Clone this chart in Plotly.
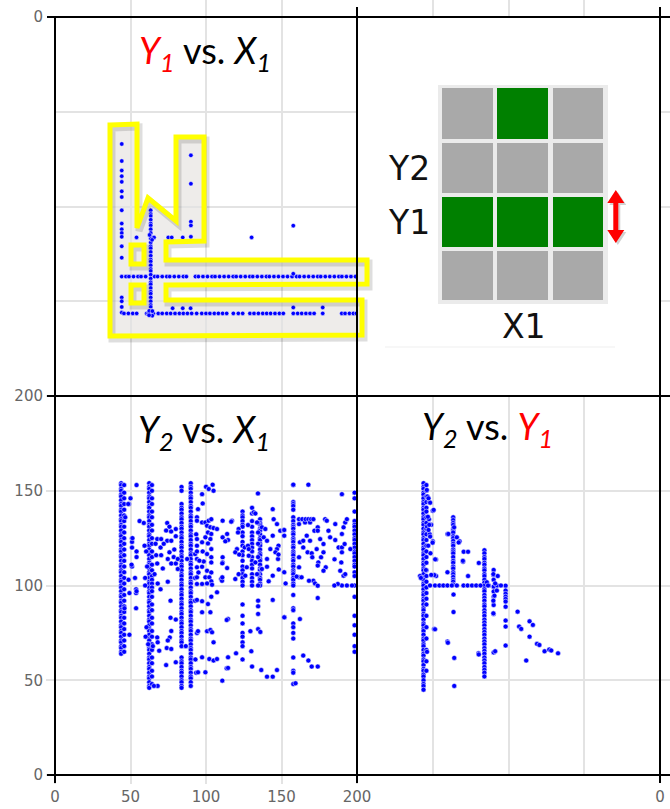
import plotly.graph_objects as go

# ---------------- data ----------------
# Y2 vs X1 : vertical columns of points (X1 of each column, then its Y2 values)
bl_col_x1 = [43.8, 45.8, 62.4, 64.2, 83.8, 89.9, 124.2, 130.5, 135.8, 134.5, 157.8, 198.4]
bl_col_y2_a = [154, 153, 151, 150, 148, 147, 145, 143, 142, 140, 139, 137, 135, 134, 132, 131, 129, 127, 126, 124,
               123, 121, 119, 118, 116, 115, 113, 111, 110, 108, 107, 105, 103, 102, 100, 99, 97, 95, 94, 92, 91,
               89, 87, 86, 84, 83, 81, 79, 78, 76, 75, 73, 71, 70, 68, 67, 65, 64]
bl_col_y2_b = [153, 149, 146, 143, 140, 137, 134, 131, 128, 125, 122, 119, 116, 113, 110, 107, 104, 101, 98, 95,
               92, 89, 86, 83, 80, 77, 74, 71, 68, 65]
bl_col_y2_c = [154, 152, 151, 149, 147, 146, 144, 142, 141, 139, 137, 136, 134, 132, 131, 129, 127, 126, 124, 122,
               121, 119, 117, 116, 114, 112, 111, 109, 107, 106, 104, 102, 101, 99, 97, 96, 94, 92, 91, 89, 87,
               86, 84, 82, 81, 79, 77, 76, 74, 72, 71, 69, 67, 66, 64, 62, 61, 59, 57, 56, 54, 52, 51, 49, 47, 46]
bl_col_y2_d = [153, 150, 146, 143, 139, 136, 132, 129, 125, 122, 118, 115, 111, 108, 105, 103, 101, 99, 97, 94,
               90, 87, 83, 80, 76, 73, 69, 66, 62, 59, 55, 52, 48]
bl_col_y2_e = [152, 150, 143, 141, 140, 138, 136, 135, 133, 131, 130, 128, 126, 125, 123, 121, 120, 118, 116, 115,
               113, 111, 110, 108, 106, 105, 103, 101, 100, 98, 96, 95, 93, 91, 90, 88, 86, 85, 83, 81, 80, 78,
               76, 75, 73, 71, 70, 68, 62, 60, 59, 57, 55, 54, 52, 50, 49, 47, 46]
bl_col_y2_f = [154, 152, 151, 149, 147, 146, 144, 142, 141, 139, 137, 136, 134, 132, 131, 129, 127, 126, 124, 122,
               121, 119, 117, 116, 114, 112, 111, 109, 107, 106, 104, 102, 101, 99, 97, 96, 94, 92, 91, 89, 87,
               86, 84, 82, 81, 79, 77, 76, 74, 72, 71, 69, 67, 66, 64, 62, 61, 59, 57, 56, 54, 52, 51, 49, 47]
bl_col_y2_g = [139, 137, 136, 134, 132, 131, 128, 126, 123, 121, 118, 116, 113, 110, 108, 106, 104, 102, 100, 90,
               84, 80, 75, 73, 70, 68, 61]
bl_col_y2_h = [141, 138, 134, 131, 128, 126, 124, 122, 120, 118, 115, 113, 111, 109, 106, 104, 102, 100]
bl_col_y2_i = [135, 133, 132, 130, 129, 127, 125, 124, 122, 121, 119, 117, 116, 114, 113, 111, 109, 108, 106, 104,
               103, 101, 100]
bl_col_y2_j = [133, 128, 122, 115, 106, 100, 92, 89, 85, 77]
bl_col_y2_k = [153, 144, 143, 142, 140, 136, 134, 132, 131, 130, 128, 127, 125, 124, 123, 121, 120, 118, 117, 116,
               114, 113, 111, 110, 108, 107, 106, 104, 103, 101, 100, 95, 88, 87, 80, 78, 75, 72, 62, 55, 54, 48]
bl_col_y2_l = [149, 146, 139, 134, 132, 131, 129, 127, 125, 124, 122, 120, 118, 117, 115, 113, 111, 110, 107, 105,
               100, 94, 84, 79, 74, 68, 65]

# Y2 vs X1 : remaining individual points (X1, Y2)
bl_points = [
    (54, 153), (50, 146), (49, 143), (46.5, 136), (51, 125), (51, 123), (51, 120), (51, 110), (48.7, 103),
    (49.3, 96), (53.7, 98), (53.7, 96), (53, 104), (53.7, 88), (49.3, 74), (46, 88), (48.5, 143), (50.7, 111),
    (54, 118), (54, 115), (54, 97), (56, 134), (58.8, 133), (51.3, 125), (60, 73), (59.7, 104), (59.7, 100),
    (61, 110), (60.4, 118), (59.3, 121), (60.6, 78), (61.7, 69),
    (67.7, 124.5), (70.3, 124.5), (74.3, 123.6), (77, 123.6), (66.6, 122), (69.9, 120), (72, 122), (75.8, 117.5),
    (79, 119), (78.6, 115), (67, 116), (70.3, 116), (74.7, 114), (77, 111.6), (80, 111.6), (67.7, 111.6),
    (71.4, 109), (65.9, 106), (68, 101), (74.7, 102), (69.9, 98), (76.5, 92), (76.5, 83), (80, 82), (77, 76),
    (76, 72.6), (74.7, 71), (67.7, 72.6), (68, 70), (64.8, 68), (69, 65.6), (74, 67), (77, 66.5), (73.6, 58),
    (80, 59.5), (68, 47), (65.5, 47), (74.3, 133), (75.8, 131), (73.6, 129), (76.9, 128.5), (80, 129.8), (80, 126),
    (86.6, 68), (87.5, 114), (81.3, 114), (81.3, 108.7), (92.8, 92), (92.8, 104), (93.5, 127), (92.8, 116.6),
    (94, 136), (93.5, 54), (93, 61), (94, 75),
    (100, 152.1), (101.8, 150.9), (104.4, 153.2), (105, 150), (97.4, 148.2), (97.8, 143.3), (94.7, 140.3),
    (134.4, 148.6), (94, 134.2), (94, 124.5), (94, 121), (94, 118), (94, 114), (94, 109.6), (94, 104.3),
    (94, 100.8),
    (97.4, 133.3), (99.6, 133.3), (101.8, 134.2), (103.5, 135), (100.7, 131.5), (102.9, 130.7), (105, 130.3),
    (107.3, 129.8), (101.3, 128), (103.5, 127.2), (99.6, 125.4), (102.9, 124.5), (97.4, 122.8), (101.3, 122.2),
    (103.5, 119.2), (97.8, 118), (100.7, 116.6), (103.5, 114.9), (103.5, 112.2), (97.4, 109.9), (100.7, 107.8),
    (103.5, 106.9), (99.6, 104.3), (102.2, 104.3), (103.5, 102.2), (97.4, 100.8), (100.7, 101.1), (104, 100.4),
    (95, 106.9), (98.5, 112.7), (95.6, 113.1),
    (111, 134.2), (117.2, 134.2), (114, 127.2), (111, 125.4), (114.6, 124), (112.8, 123.3), (111, 114.9),
    (111, 112.2), (114, 109.2), (110, 103.4), (110.6, 102.5), (110.8, 111.7), (110.8, 104.3), (116.7, 133.7),
    (121.6, 129.8), (127.8, 131.9), (121.2, 128), (120.5, 119.2), (119.4, 117.5), (122, 116.3), (125.6, 120.1),
    (127.8, 121), (128.3, 115.7), (121.6, 106), (119.4, 103.4), (126, 105.2), (127, 109.6), (128.3, 119.2),
    (131.6, 138.6), (132.7, 138), (133.8, 133.3), (137, 130.7), (138.2, 125.4), (137, 108.7), (133.8, 106),
    (132.7, 112.2),
    (144.2, 140.3), (144.8, 135), (147, 132.4), (139.3, 129.8), (140.4, 123.6), (144.2, 126.3), (148, 121),
    (147, 119.2), (142.6, 119.2), (146, 117.5), (140.4, 114), (140.4, 109.9), (144.2, 105.2), (147.7, 114),
    (149.2, 128.9), (151.4, 129.3), (141.5, 102.2), (148, 116.3), (148.2, 108.5),
    (107.3, 96.4), (103.5, 94.1), (94, 92.4), (97.4, 91.7), (101.3, 90.2), (97.4, 85.9), (102.9, 85.9),
    (114.6, 82.3), (113.7, 81.8), (144.2, 92.4), (152, 83.2), (94.7, 75.9), (100.7, 75.9), (102.9, 76.5),
    (104, 75.3), (129.4, 75.9), (136, 75.5), (105, 70), (130, 65.3), (97.4, 62.1), (102.2, 61.2), (105, 60.4),
    (107.3, 61.2), (114.6, 62.1), (113.7, 56.3), (119.9, 64.2), (130.5, 57.2), (136.6, 55.4), (140.4, 51.9),
    (144.2, 51.9), (147, 55.4), (114.6, 56.5), (110.8, 49.8), (94.7, 54.2), (99.6, 54.2),
    (157.8, 153.2), (167.8, 153.2), (190, 148.2), (159.3, 48.4),
    (195.6, 119.2), (196.7, 100), (193.3, 100), (190, 100), (187.3, 100.8), (185, 100),
    (151.8, 129.3), (151.8, 126.3), (151.8, 107), (151.8, 83.2), (152.7, 101.1), (161.6, 135), (161.6, 132.4),
    (162.2, 122.8), (161.6, 114.9), (161.6, 109.6), (161.6, 104.3), (160, 104.7), (163.3, 104.3), (163.8, 135),
    (165.6, 133.3), (166, 135), (167.8, 135), (168.9, 133.3), (169.6, 135), (171.1, 135), (166.7, 126.3),
    (164.4, 123.6), (168.9, 123.6), (164.4, 120.1), (167.3, 117.5), (170, 117), (170.4, 114.9), (171.8, 128.9),
    (174, 130.7), (174, 128.9), (175.6, 124.5), (177.8, 121.9), (176.2, 114.9), (174.4, 112.2), (174, 110.5),
    (177.8, 117.5), (173.3, 119.2), (178.9, 135), (180, 134.2), (181.1, 128.9), (182.2, 125.4), (179.3, 109.6),
    (177.8, 107.8), (185.6, 132.4), (185.6, 124), (187.8, 120.1), (190, 120.1), (191.8, 121.9), (190, 117.5),
    (185.1, 113.8), (189.6, 112.2), (191.1, 105.2), (192.2, 106), (188.9, 107.8), (191.1, 130.7),
    (192.2, 133.3), (193.3, 135), (190, 127.2), (171.1, 102.5), (172.2, 101.1), (168.2, 102.5), (174, 99.9),
    (174, 93.4), (162.2, 82.3), (164.4, 63), (167.8, 60.4), (170, 57.2), (174, 57.2)]

# Y1 vs X1
top_col_x1 = [44.2, 63.4, 90.0]
top_col_y1_a = [133, 124, 119, 116, 113, 108, 105, 98, 91, 88, 86, 84, 79, 73, 63, 52, 50, 47, 44]
top_col_y1_b = [98, 96, 95, 93, 91, 90, 88, 86, 84, 83, 81, 79, 78, 76, 74, 72, 71, 69, 67, 66, 64, 62, 60, 59,
                57, 55, 54, 52, 50, 48, 47, 45, 44]
top_col_y1_c = [127, 112, 92, 90, 84]
top_row_y1 = [83.7, 63.0, 43.6]
top_row_x1_a = [54, 65.6, 75, 77.3, 84.6, 130.2]
top_row_x1_b = [47, 49, 52, 55, 57, 60, 66, 68, 71, 74, 76, 79, 82, 85, 87, 93, 95, 98, 101, 104, 106, 109, 112,
                115, 118, 120, 123, 126, 129, 131, 134, 137, 140, 142, 145, 148, 151, 154, 157, 160, 162, 165, 168,
                171, 174, 176, 179, 182, 185, 188, 190, 193, 196, 199]
top_row_x1_c = [45.7, 48.6, 51.5, 54.1, 60.7, 61.8, 65.2, 68.4, 71, 74, 76.6, 79.5, 82.4, 85, 87.7, 90.5, 93.8,
                97.2, 100, 102.6, 105.5, 108.2, 111, 113.7, 118.1, 121.4, 124.3, 129.1, 131.8, 134.7, 137.6, 140.2,
                142.8, 145.7, 148.6, 151.2, 157.8, 160.7, 163.4, 166.2, 168.9, 171.6, 177.3, 189.9, 192.1, 195,
                197.6, 199.6]
top_points = [(77.9, 46.3), (84.6, 46.3), (89.8, 46.3), (157.8, 46.7), (177.3, 46.7), (157.8, 64.5),
              (157.8, 89.9), (62.6, 85), (64.3, 82.4), (62.4, 44.9), (64.4, 42.4), (62.3, 42.6), (64.5, 44.8)]

# Y2 vs Y1
br_col_y1 = [43.9, 45.8, 63.5, 84.1, 90.2, 98.1]
br_col_y2_a = [154, 152, 151, 149, 148, 146, 144, 143, 141, 140, 138, 136, 135, 133, 132, 130, 128, 127, 125, 124,
               122, 120, 119, 117, 116, 114, 112, 111, 109, 108, 106, 104, 103, 101, 100, 98, 96, 95, 93, 92, 90,
               88, 87, 85, 84, 82, 80, 79, 77, 76, 74, 72, 71, 69, 68, 66, 64, 63, 61, 60, 58, 56, 55, 53, 52, 50,
               48, 47, 45]
br_col_y2_b = [153, 150, 147, 144, 141, 139, 136, 133, 130, 127, 124, 121, 118, 115, 112, 108, 105, 102, 99, 96,
               93, 90, 84, 78, 72, 66, 60, 55]
br_col_y2_c = [136, 134.5, 133, 132, 130, 129, 128, 126, 125, 123.5, 122, 121, 119, 118, 117, 115, 113, 112, 110,
               109, 107, 106, 104.5, 103, 102, 100.5]
br_col_y2_d = [118.6, 117, 115, 114, 112, 111, 109, 108, 106, 105, 103, 101.5, 100, 98, 97, 95, 93.5, 92, 90, 89,
               87, 85.5, 84, 82, 80.5, 79, 77, 75.5, 74, 72, 70.5, 69, 67, 65.5, 64, 62, 60.5, 59, 57, 55.5, 54, 52]
br_col_y2_e = [108.2, 105.6, 103, 99.4, 96.8, 94.1, 89.7, 85, 64.7]
br_col_y2_f = [99.9, 97.3, 95.6, 94.1, 92.9, 91.5, 88.8, 81.5, 78.3, 68.3]
br_row_y2 = 100.0
br_row_y1 = [48.2, 51.5, 54.4, 57, 59.7, 62.6, 65.9, 70.3, 73, 75.9, 78.7, 81.5, 87, 92.5, 95]
br_points = [
    (47.8, 144), (50, 139.5), (47.5, 135), (46.2, 131), (50, 123.3), (52.1, 113.7), (52.2, 105), (51, 105.5),
    (50.9, 77), (46.2, 65), (47, 121), (48, 127), (46.5, 147), (49, 132), (48.5, 117), (41.6, 105), (42.2, 104),
    (46.1, 150.4), (47.2, 146), (48.3, 143.7), (50.6, 139.9), (46.8, 136.3), (47.7, 132), (47.2, 129.3),
    (48.3, 125.8), (49.9, 122.6), (49, 105.6), (45.5, 108.2), (51.6, 113.8), (51.5, 76.9),
    (63.7, 95.2), (63.7, 86), (64.2, 61.8), (64.2, 47), (59.7, 127.2), (65.9, 125.4), (67.7, 123.3),
    (64.1, 130.7), (59.7, 70.4), (59.7, 107), (60, 69.8), (60.3, 127.2), (67.1, 122.7), (70.4, 117.8),
    (73.3, 117.8), (70, 112.5), (73.3, 105), (80.4, 111.9), (69.9, 113), (80.2, 64.2), (80.4, 63.6),
    (85.7, 101.7), (86.5, 100), (90, 106), (92.9, 105), (91.2, 101.1), (92.3, 97.3), (90.7, 94.6), (90, 92),
    (90, 85.3), (91.2, 65.3),
    (106, 86.2), (107, 78.3), (108.4, 77.1), (113.9, 81.1), (116.1, 79.2), (113.9, 73), (118.8, 69.2),
    (120.4, 68.6), (123.8, 65.3), (126.9, 66.2), (128.2, 65.7), (132.7, 64.2), (111.7, 60.4)]

# Inset diagram: 4 rows (top to bottom) x 3 columns of cell states
inset_rows = ['', 'Y2', 'Y1', '']
inset_cells = [[0, 1, 0],
               [0, 0, 0],
               [1, 1, 1],
               [0, 0, 0]]
inset_xlabel = 'X1'

# ---------------- figure geometry ----------------
W, H = 670, 809
ML, MB = 55, 34
PW, PH = W - ML, H - MB


def fx(px):
    return (px - ML) / PW


def fy(py):
    return (PH - py) / PH


c1, c2 = fx(357), fx(660)
r1, r2 = fy(396), fy(17)

GRID = '#e3e3e3'
TICKFONT = dict(family='DejaVu Sans', size=15, color='#666666')
DOT = dict(color='#0000ff', size=5, line=dict(color='rgba(255,255,255,0.85)', width=0.6))


def axis(domain, anchor, rng, tickvals, ticktext=None, grid=True, ticks=False):
    d = dict(domain=domain, anchor=anchor, range=rng, tickmode='array', tickvals=tickvals,
             showgrid=grid, gridcolor=GRID, gridwidth=1.5, zeroline=False, showline=False,
             showticklabels=ticktext is not None, tickfont=TICKFONT, fixedrange=True,
             automargin=False, ticks='outside', ticklen=8, tickwidth=1.5,
             tickcolor=GRID if ticks else 'rgba(0,0,0,0)')
    if ticktext is not None:
        d['ticktext'] = ticktext
    return d


full = [0, 200]
col3_rng = [0, 200 * (W - 660) / 302.5]
top_strip_rng = [0, 200 * 17 / 379]
mid = [50, 100, 150]
all_ticks = [0, 50, 100, 150, 200]

fig = go.Figure()


def scatter(xs, ys, xa, ya, **kw):
    m = dict(DOT)
    m.update(kw)
    fig.add_trace(go.Scatter(x=xs, y=ys, mode='markers', marker=m, xaxis=xa, yaxis=ya,
                             showlegend=False, hoverinfo='x+y'))


# Y2 vs X1 (bottom left)
bl_cols = [bl_col_y2_a, bl_col_y2_b, bl_col_y2_c, bl_col_y2_d, bl_col_y2_e, bl_col_y2_f,
           bl_col_y2_g, bl_col_y2_h, bl_col_y2_i, bl_col_y2_j, bl_col_y2_k, bl_col_y2_l]
xs, ys = [], []
for x1, vals in zip(bl_col_x1, bl_cols):
    xs += [x1] * len(vals)
    ys += vals
xs += [p[0] for p in bl_points]
ys += [p[1] for p in bl_points]
scatter(xs, ys, 'x', 'y')

# Y2 vs Y1 (bottom right)
br_cols = [br_col_y2_a, br_col_y2_b, br_col_y2_c, br_col_y2_d, br_col_y2_e, br_col_y2_f]
xs, ys = [], []
for y1, vals in zip(br_col_y1, br_cols):
    xs += [y1] * len(vals)
    ys += vals
xs += br_row_y1
ys += [br_row_y2] * len(br_row_y1)
xs += [p[0] for p in br_points]
ys += [p[1] for p in br_points]
scatter(xs, ys, 'x2', 'y2')

# Y1 vs X1 (top left)
top_cols = [top_col_y1_a, top_col_y1_b, top_col_y1_c]
top_rows = [top_row_x1_a, top_row_x1_b, top_row_x1_c]
xs, ys = [], []
for x1, vals in zip(top_col_x1, top_cols):
    xs += [x1] * len(vals)
    ys += vals
for y1, vals in zip(top_row_y1, top_rows):
    xs += vals
    ys += [y1] * len(vals)
xs += [p[0] for p in top_points]
ys += [p[1] for p in top_points]
scatter(xs, ys, 'x3', 'y3', size=4.5)

# empty cells so every grid panel is laid out
for xa, ya in [('x5', 'y5'), ('x6', 'y6'), ('x7', 'y7'), ('x8', 'y8')]:
    fig.add_trace(go.Scatter(x=[], y=[], xaxis=xa, yaxis=ya, showlegend=False))

fig.update_layout(
    width=W, height=H, autosize=False,
    margin=dict(l=ML, r=0, t=0, b=MB, pad=0, autoexpand=False),
    paper_bgcolor='white', plot_bgcolor='rgba(0,0,0,0)',
    showlegend=False,
    xaxis=axis([0, c1], 'y', full, all_ticks, [str(v) for v in all_ticks], ticks=True),
    yaxis=axis([0, r1], 'x', full, all_ticks, [str(v) for v in all_ticks], ticks=True),
    xaxis2=axis([c1, c2], 'y2', full, mid),
    yaxis2=axis([0, r1], 'x2', full, mid),
    xaxis3=axis([0, c1], 'y3', full, mid),
    yaxis3=axis([r1, r2], 'x3', full, mid),
    xaxis5=axis([c2, 1], 'y5', col3_rng, [0], ['0'], grid=False),
    yaxis5=axis([0, r1], 'x5', full, mid),
    xaxis6=axis([c2, 1], 'y6', col3_rng, [], grid=False),
    yaxis6=axis([r1, r2], 'x6', full, mid),
    xaxis7=axis([0, c1], 'y7', full, mid),
    yaxis7=axis([r2, 1], 'x7', top_strip_rng, [0], ['0'], grid=False),
    xaxis8=axis([c1, c2], 'y8', full, mid),
    yaxis8=axis([r2, 1], 'x8', top_strip_rng, [], grid=False),
)

shapes = []


def line(x0, y0, x1, y1, color='black', width=2, layer='above'):
    shapes.append(dict(type='line', xref='paper', yref='paper', x0=fx(x0), y0=fy(y0), x1=fx(x1), y1=fy(y1),
                       line=dict(color=color, width=width), layer=layer))


def poly(pts, fill=None, color=None, width=0, layer='above', dx=0, dy=0):
    d = 'M ' + ' L '.join(f'{fx(x + dx):.5f},{fy(y + dy):.5f}' for x, y in pts) + ' Z'
    s = dict(type='path', xref='paper', yref='paper', path=d, layer=layer,
             line=dict(color=color or 'rgba(0,0,0,0)', width=width))
    if fill:
        s['fillcolor'] = fill
    shapes.append(s)


def rect(x0, y0, x1, y1, fill, layer='above', color=None, width=0):
    shapes.append(dict(type='rect', xref='paper', yref='paper', x0=fx(x0), y0=fy(y0), x1=fx(x1), y1=fy(y1),
                       fillcolor=fill, layer=layer, line=dict(color=color or 'rgba(0,0,0,0)', width=width)))


# highlighted region in the Y1 vs X1 panel
region = [(110, 125), (137, 124), (137, 228), (148, 198), (176, 221), (176, 137), (204, 137), (204, 241),
          (166, 242), (166, 260), (367, 260), (367, 284), (166, 285), (166, 300), (362, 300), (362, 335),
          (110, 336)]
box_a = [(131, 245), (144, 245), (144, 264), (131, 264)]
box_b = [(131, 285), (144, 285), (144, 303), (131, 303)]
for pts in (region, box_a, box_b):
    poly(pts, fill='#eeecea', layer='below')
for pts in (region, box_a, box_b):
    poly(pts, color='rgba(0,0,0,0.13)', width=7, dx=2, dy=3)
for pts in (region, box_a, box_b):
    poly(pts, color='#ffff00', width=5)

# panel frame with its end ticks
for py in (17, 396, 775):
    line(47, py, W, py)
line(55, 17, 55, 783)
line(357, 7, 357, 783)
line(660, 7, 660, 783)

# inset diagram
rect(385, 346.5, 615, 347.5, '#efefef')
rect(438, 85, 608, 304, '#ebebeb')
col_x = [(442, 493), (497, 548), (553, 603)]
row_y = [(88, 139), (143, 193), (197, 247), (251, 300)]
for ri, row in enumerate(inset_cells):
    for ci, on in enumerate(row):
        rect(col_x[ci][0], row_y[ri][0], col_x[ci][1], row_y[ri][1], '#008000' if on else '#a9a9a9')

arrow = [(615.8, 190), (624.3, 203), (618.3, 203), (618.3, 230), (624.3, 230), (615.8, 243), (607.3, 230),
         (613.3, 230), (613.3, 203), (607.3, 203)]
poly(arrow, fill='rgba(0,0,0,0.18)', dx=2, dy=2)
poly(arrow, fill='#ff0000')

fig.update_layout(shapes=shapes)

annotations = []
for ri, lab in enumerate(inset_rows):
    if lab:
        annotations.append(dict(text=lab, x=fx(432), y=fy((row_y[ri][0] + row_y[ri][1]) / 2), xanchor='right',
                                yanchor='middle', showarrow=False, xref='paper', yref='paper',
                                font=dict(family='DejaVu Sans', size=33, color='#111111')))
annotations.append(dict(text=inset_xlabel, x=fx(524), y=fy(327), xanchor='center', yanchor='middle',
                        showarrow=False, xref='paper', yref='paper',
                        font=dict(family='DejaVu Sans', size=33, color='#111111')))

RED = '#ff0000'
titles = [
    (f"<i><span style='color:{RED}'>Y<sub>1</sub></span></i> vs. <i>X<sub>1</sub></i>", 205, 53),
    ("<i>Y<sub>2</sub></i> vs. <i>X<sub>1</sub></i>", 204, 432),
    (f"<i>Y<sub>2</sub></i> vs. <i><span style='color:{RED}'>Y<sub>1</sub></span></i>", 487, 428),
]
for text, px, py in titles:
    annotations.append(dict(text=text, x=fx(px), y=fy(py), xanchor='center', yanchor='middle',
                            showarrow=False, xref='paper', yref='paper',
                            font=dict(family='Lato', size=36, color='#000000')))
fig.update_layout(annotations=annotations)

fig.write_html('out.html', config={'displayModeBar': False})
